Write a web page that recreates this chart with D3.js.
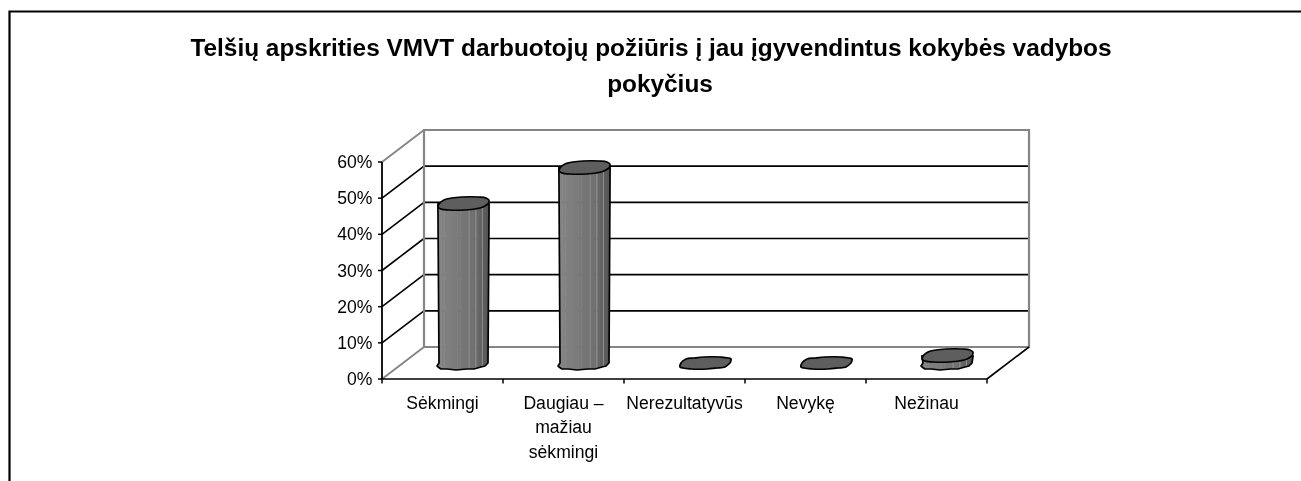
<!DOCTYPE html>
<html><head><meta charset="utf-8">
<script src="https://cdnjs.cloudflare.com/ajax/libs/d3/7.8.5/d3.min.js"></script>
<style>
html,body{margin:0;padding:0;background:#fff;overflow:hidden}
svg{display:block;filter:blur(0.4px)}
text{font-family:"Liberation Sans",Arial,sans-serif;fill:#000}
</style></head><body>
<svg id="c" width="1301" height="481"></svg>
<script>
const titleLines = ["Telšių apskrities VMVT darbuotojų požiūris į jau įgyvendintus kokybės vadybos", "pokyčius"];
const categories = ["Sėkmingi", "Daugiau – mažiau sėkmingi", "Nerezultatyvūs", "Nevykę", "Nežinau"];
const categoryLines = [["Sėkmingi"], ["Daugiau –", "mažiau", "sėkmingi"], ["Nerezultatyvūs"], ["Nevykę"], ["Nežinau"]];
const values = [44, 54, 0, 0, 2];
const yTicks = [0, 10, 20, 30, 40, 50, 60];

const svg = d3.select("#c");
const depth = {x: 42, y: -32};
const x = d3.scaleBand().domain(categories).range([382, 987]);
const y = d3.scaleLinear().domain([0, 60]).range([379, 162]);
const GREY = "#858585", INK = "#000";

// frame
svg.append("path").attr("d", "M9.5,481V11.5H1301").attr("fill", "none").attr("stroke", "#000").attr("stroke-width", 2.2);

// title
svg.append("g").selectAll("text").data(titleLines).join("text")
  .attr("x", (d, i) => i ? 660 : 651).attr("y", (d, i) => 55.5 + i * 36)
  .attr("text-anchor", "middle").attr("font-weight", "bold").attr("font-size", 24.4).text(d => d);

const grid = svg.append("g");
const line = (x1, y1, x2, y2, c, w) => grid.append("line").attr("x1", x1).attr("y1", y1).attr("x2", x2).attr("y2", y2).attr("stroke", c).attr("stroke-width", w);
const [x0, x1] = x.range();

// side-wall and back-wall gridlines
yTicks.forEach(t => {
  const edge = t === 0 || t === 60;
  line(x0, y(t), x0 + depth.x, y(t) + depth.y, edge ? GREY : INK, edge ? 2 : 1.6);
  if (!edge) line(x0 + depth.x, y(t) + depth.y, x1 + depth.x, y(t) + depth.y, INK, 1.7);
});
// back wall outline
grid.append("path").attr("fill", "none").attr("stroke", GREY).attr("stroke-width", 2.2)
  .attr("d", `M${x0 + depth.x},${y(0) + depth.y}V${y(60) + depth.y}H${x1 + depth.x}V${y(0) + depth.y}Z`);
// floor front and right edges, value axis
line(x0, y(0), x1, y(0), INK, 1.7);
line(x1, y(0), x1 + depth.x, y(0) + depth.y, INK, 1.6);
line(x0, y(0), x0, y(60), INK, 1.8);
yTicks.forEach(t => line(x0 - 4, y(t), x0, y(t), INK, 1.5));
x.domain().concat([null]).forEach(c => { const px = c === null ? x1 : x(c); line(px, y(0), px, y(0) + 4.5, INK, 1.5); });

// value labels
svg.append("g").selectAll("text").data(yTicks).join("text")
  .attr("x", 372.5).attr("y", d => y(d) + 6).attr("text-anchor", "end").attr("font-size", 17.6).text(d => d + "%");

// category labels
const lab = svg.append("g").selectAll("text").data(categoryLines).join("text")
  .attr("text-anchor", "middle").attr("font-size", 17.6);
lab.each(function(lines, i) {
  d3.select(this).selectAll("tspan").data(lines).join("tspan")
    .attr("x", x(categories[i]) + x.bandwidth() / 2).attr("y", (d, j) => 409 + j * 24.4).text(d => d);
});

// cylinders
const defs = svg.append("defs");
const rx = 24.8, ry = 6.6, skew = 7;
const shade = d3.scaleLinear().domain([0, 0.45, 0.7, 1]).range(["#848484", "#787878", "#707070", "#565656"]);
const pow = (c) => Math.sign(c) * Math.pow(Math.abs(c), 0.75);
const ring = (cx, cy, a0, a1, n) => d3.range(n + 1).map(k => {
  const t = a0 + (a1 - a0) * k / n;
  return [Math.round(cx + rx * pow(Math.cos(t)) + skew * Math.sin(t)), Math.round(cy - ry * pow(Math.sin(t)))];
});
const curve = d3.line().curve(d3.curveCatmullRom.alpha(0.9));
const stripes = d3.range(16);
const bars = svg.append("g").selectAll("g").data(values).join("g");
bars.each(function(v, i) {
  const g = d3.select(this);
  const cx = x(categories[i]) + x.bandwidth() / 2 + depth.x / 2;
  const baseY = y(0) + depth.y / 2, topY = y(v) + depth.y / 2;
  const halfW = rx + 0.8;
  if (v > 0) {
    const lower = ring(cx, baseY, Math.PI, 2 * Math.PI, 10);
    const body = `M${cx - halfW},${topY}` + "L" + lower.map(p => p.join(",")).join("L") + `L${cx + halfW},${topY}Z`;
    const id = "clip" + i;
    defs.append("clipPath").attr("id", id).append("path").attr("d", body);
    const sg = g.append("g").attr("clip-path", `url(#${id})`);
    const sw = 2 * halfW / stripes.length;
    sg.selectAll("rect").data(stripes).join("rect")
      .attr("x", k => cx - halfW + k * sw).attr("width", sw + 0.5)
      .attr("y", topY - ry - 2).attr("height", baseY - topY + 2 * ry + 4)
      .attr("fill", k => shade(k / 15));
    sg.selectAll("line").data([0.61, 0.74, 0.87]).join("line")
      .attr("x1", f => cx - halfW + 2 * halfW * f).attr("x2", f => cx - halfW + 2 * halfW * f)
      .attr("y1", topY).attr("y2", baseY + ry + 2).attr("stroke", "#9a9a9a").attr("stroke-width", 0.8);
    g.append("path").attr("d", body).attr("fill", "none").attr("stroke", "#000").attr("stroke-width", 1.7).attr("stroke-linejoin", "round");
  }
  g.append("path").attr("d", curve(ring(cx, topY, 0, 2 * Math.PI, 14)) + "Z")
    .attr("fill", "#5e5e5e").attr("stroke", "#000").attr("stroke-width", 1.7);
});
</script>
</body></html>
